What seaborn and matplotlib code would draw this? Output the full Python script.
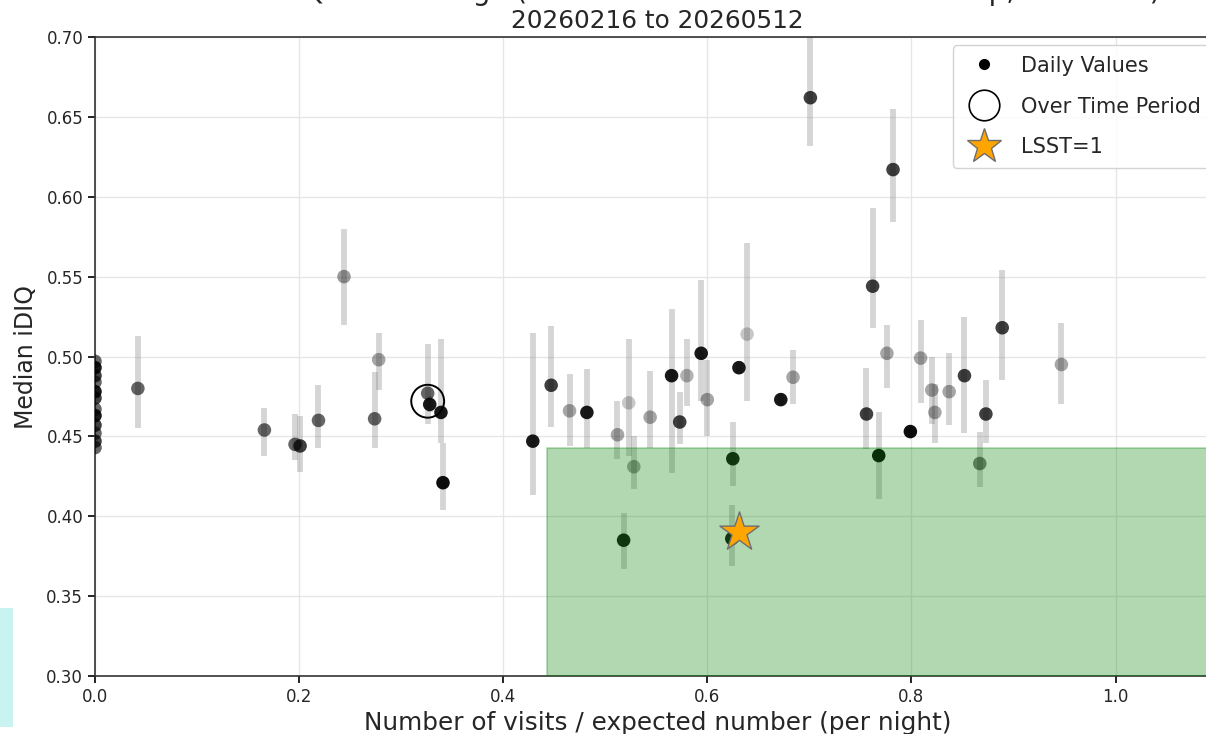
import numpy as np
import pandas as pd
import matplotlib
matplotlib.use("Agg")
import matplotlib.pyplot as plt
from matplotlib.patches import Rectangle
from matplotlib.lines import Line2D
import seaborn as sns

# ---------------- data ----------------
zero_cov_iq = [0.497, 0.493, 0.488, 0.484, 0.478, 0.474, 0.467, 0.463,
               0.457, 0.452, 0.447, 0.443]
zero_cov_weight = [0.6, 0.9, 0.75, 0.6, 0.9, 0.75, 0.6, 0.9, 0.75, 0.6, 0.75, 0.6]

coverage = [0.042, 0.166, 0.196, 0.201, 0.219, 0.244, 0.274, 0.278, 0.326, 0.328,
            0.339, 0.341, 0.429, 0.447, 0.465, 0.482, 0.512, 0.518, 0.523, 0.528,
            0.544, 0.565, 0.573, 0.580, 0.594, 0.600, 0.625, 0.624, 0.631, 0.639,
            0.672, 0.684, 0.701, 0.782, 0.762, 0.776, 0.756, 0.768, 0.799, 0.809,
            0.820, 0.823, 0.837, 0.852, 0.867, 0.873, 0.889, 0.947]
median_iq = [0.480, 0.454, 0.445, 0.444, 0.460, 0.550, 0.461, 0.498, 0.477, 0.470,
             0.465, 0.421, 0.447, 0.482, 0.466, 0.465, 0.451, 0.385, 0.471, 0.431,
             0.462, 0.488, 0.459, 0.488, 0.502, 0.473, 0.436, 0.386, 0.493, 0.514,
             0.473, 0.487, 0.662, 0.617, 0.544, 0.502, 0.464, 0.438, 0.453, 0.499,
             0.479, 0.465, 0.478, 0.488, 0.433, 0.464, 0.518, 0.495]
iq_upper = [0.513, 0.468, 0.464, 0.463, 0.482, 0.580, 0.490, 0.515, 0.508, 0.475,
            0.511, 0.446, 0.515, 0.519, 0.489, 0.492, 0.472, 0.402, 0.511, 0.450,
            0.491, 0.530, 0.478, 0.511, 0.548, 0.498, 0.459, 0.407, 0.497, 0.571,
            0.477, 0.504, 0.705, 0.655, 0.593, 0.520, 0.493, 0.465, 0.457, 0.523,
            0.500, 0.483, 0.502, 0.525, 0.453, 0.485, 0.554, 0.521]
iq_lower = [0.455, 0.438, 0.435, 0.428, 0.443, 0.520, 0.443, 0.479, 0.458, 0.465,
            0.446, 0.404, 0.413, 0.456, 0.444, 0.443, 0.436, 0.367, 0.438, 0.417,
            0.443, 0.427, 0.445, 0.469, 0.472, 0.450, 0.419, 0.369, 0.489, 0.472,
            0.469, 0.470, 0.632, 0.584, 0.518, 0.480, 0.442, 0.411, 0.449, 0.471,
            0.458, 0.446, 0.457, 0.452, 0.418, 0.446, 0.485, 0.470]
weight = [0.6, 0.6, 0.6, 0.75, 0.6, 0.4, 0.6, 0.35, 0.6, 0.9,
          0.9, 0.95, 0.9, 0.75, 0.35, 0.9, 0.35, 0.9, 0.22, 0.35,
          0.35, 0.9, 0.75, 0.3, 0.9, 0.35, 0.9, 0.9, 0.9, 0.22,
          0.9, 0.35, 0.75, 0.75, 0.75, 0.35, 0.75, 0.95, 0.95, 0.35,
          0.35, 0.35, 0.35, 0.75, 0.5, 0.75, 0.75, 0.35]

period_coverage = [0.326]
period_iq = [0.472]
lsst_coverage = [0.631]
lsst_iq = [0.390]

coverage_threshold = 0.443
iq_threshold = 0.4427

title_line1 = "Median iDIQ vs Coverage (relative to the nominal LSST setup, all bands)"
title_line2 = "20260216 to 20260512"
x_label = "Number of visits / expected number (per night)"
y_label = "Median iDIQ"
legend_labels = ["Daily Values", "Over Time Period", "LSST=1"]

df = pd.DataFrame({
    "coverage": [0.0] * len(zero_cov_iq) + coverage,
    "iq": zero_cov_iq + median_iq,
    "upper": zero_cov_iq + iq_upper,
    "lower": zero_cov_iq + iq_lower,
    "weight": zero_cov_weight + weight,
})

# ---------------- figure ----------------
sns.set_theme(style="ticks")
plt.rcParams["font.family"] = ["DejaVu Sans"]

W, H = 1206, 734
fig = plt.figure(figsize=(W / 100, H / 100), dpi=100)
ax = fig.add_axes([95 / W, 1 - 676 / H, (1220 - 95) / W, (676 - 37) / H])

ax.grid(True, color="#e6e6e6", linewidth=1.0, zorder=0)
ax.set_axisbelow(True)

# error bars
yerr = np.vstack([df["iq"] - df["lower"], df["upper"] - df["iq"]])
ax.errorbar(df["coverage"], df["iq"], yerr=yerr, fmt="none",
            ecolor="gray", alpha=0.33, elinewidth=4.2, capsize=0, zorder=2)

# daily points grouped by weight (alpha)
for w, sub in df.groupby("weight"):
    sns.scatterplot(data=sub, x="coverage", y="iq", ax=ax, color="black",
                    alpha=w, s=95, edgecolor="none", zorder=3, legend=False)

# over-time-period point
sns.scatterplot(x=period_coverage, y=period_iq, ax=ax, s=560, facecolor="none",
                edgecolor="black", linewidth=1.4, zorder=4, legend=False)

# threshold region
ax.add_patch(Rectangle((coverage_threshold, 0.30), 2.0, iq_threshold - 0.30,
                       facecolor="green", edgecolor="green", alpha=0.3,
                       linewidth=1.2, zorder=5))

# LSST=1 star
sns.scatterplot(x=lsst_coverage, y=lsst_iq, ax=ax, marker="*", s=880,
                color="orange", edgecolor="#6e6e6e", linewidth=1.0, zorder=6,
                legend=False)

ax.set_xlim(0, (1220 - 95) / 1020.5)
ax.set_ylim(0.30, 0.70)
ax.set_xticks([0.0, 0.2, 0.4, 0.6, 0.8, 1.0])
ax.set_yticks([0.30, 0.35, 0.40, 0.45, 0.50, 0.55, 0.60, 0.65, 0.70])
ax.set_xticklabels(["0.0", "0.2", "0.4", "0.6", "0.8", "1.0"])
ax.set_yticklabels(["0.30", "0.35", "0.40", "0.45", "0.50", "0.55", "0.60", "0.65", "0.70"])
ax.tick_params(axis="both", labelsize=12, length=5, width=1.2, color="black")
for sp in ax.spines.values():
    sp.set_color("#333333")
    sp.set_linewidth(1.2)

ax.set_xlabel(x_label, fontsize=17.8, labelpad=4)
ax.set_ylabel(y_label, fontsize=17, labelpad=6)
ax.set_title(title_line2, fontsize=17.8, pad=6.5)
# first title line lies mostly above the visible area, as in the reference crop
fig.text(659 / W, 1 - 0.3 / H, title_line1, ha="center", va="baseline", fontsize=20)

handles = [
    Line2D([], [], linestyle="none", marker="o", markersize=7,
           markerfacecolor="black", markeredgecolor="black"),
    Line2D([], [], linestyle="none", marker="o", markersize=22,
           markerfacecolor="none", markeredgecolor="black", markeredgewidth=1.2),
    Line2D([], [], linestyle="none", marker="*", markersize=26,
           markerfacecolor="orange", markeredgecolor="#6e6e6e", markeredgewidth=1.0),
]
ax.legend(handles, legend_labels, loc="upper right", fontsize=15,
          labelspacing=1.0, handlelength=2.0, handletextpad=0.8,
          borderpad=0.5, borderaxespad=0.4, framealpha=0.85, edgecolor="#cccccc")

# partially visible cyan panel at the lower-left edge
fig.patches.append(Rectangle((0, (H - 727) / H), 13 / W, (727 - 608) / H,
                             transform=fig.transFigure, facecolor="#c8f3f1",
                             edgecolor="none", zorder=0))

fig.savefig("out.png", dpi=100)
